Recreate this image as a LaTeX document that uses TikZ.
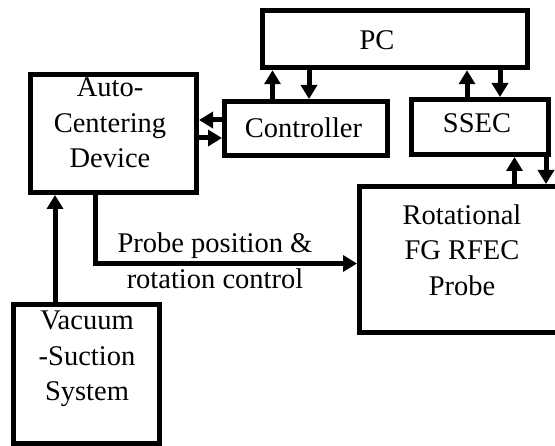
\documentclass[tikz,border=0pt]{standalone}
\usepackage{fontspec}
\setmainfont{Liberation Serif}
\usetikzlibrary{arrows.meta, positioning}

\tikzset{
  blk/.style={draw, line width=5bp, inner sep=0pt},
  arr/.style={line width=5bp, -{Triangle[length=14bp, width=16bp]}},
  txt/.style={font=\fontsize{28.5bp}{35.5bp}\selectfont, align=center, anchor=base, inner sep=0pt}
}

\begin{document}
\begin{tikzpicture}[x=1bp, y=-1bp]
  \useasboundingbox (0,0) rectangle (555,446);

  % boxes
  \node[blk, minimum width=265bp, minimum height=57.5bp] (pc) at (395,39) {};
  \node[blk, minimum width=166bp, minimum height=117.5bp] (acd) at (113.5,133.75) {};
  \node[blk, minimum width=163bp, minimum height=54bp] (ctrl) at (306,128.5) {};
  \node[blk, minimum width=137bp, minimum height=55bp] (ssec) at (480,127) {};
  \node[blk, minimum width=210bp, minimum height=146bp] (probe) at (464.5,259.5) {};
  \node[blk, minimum width=145bp, minimum height=139.5bp] (vac) at (86.5,373.75) {};

  % texts (base = last line)
  \node[txt] at (377,50) {PC};
  \node[txt] at (110,168) {Auto-\\Centering\\Device};
  \node[txt] at (303.5,138) {Controller};
  \node[txt] at (477,133) {SSEC};
  \node[txt] at (462,295.5) {Rotational\\FG RFEC\\Probe};
  \node[txt] at (87,400.5) {Vacuum\\-Suction\\System};

  % Vacuum to device
  \draw[arr] (vac.north -| 55,0) -- (acd.south -| 55,0);

  % device to probe
  \draw[arr] (acd.south -| 95.5,0) |- (probe.west |- 0,263.5);
  \node[txt] (ctl) at (215,288) {Probe position \&\\rotation control};

  % device and controller
  \draw[arr] (ctrl.west |- 0,120) -- (acd.east |- 0,120);
  \draw[arr] (acd.east |- 0,138) -- (ctrl.west |- 0,138);

  % controller and PC
  \draw[arr] (ctrl.north -| 272.5,0) -- (pc.south -| 272.5,0);
  \draw[arr] (pc.south -| 309,0) -- (ctrl.north -| 309,0);

  % SSEC and PC
  \draw[arr] (ssec.north -| 467,0) -- (pc.south -| 467,0);
  \draw[arr] (pc.south -| 500,0) -- (ssec.north -| 500,0);

  % SSEC and probe
  \draw[arr] (probe.north -| 514.5,0) -- (ssec.south -| 514.5,0);
  \draw[arr] (ssec.south -| 546,0) -- (probe.north -| 546,0);
\end{tikzpicture}
\end{document}
